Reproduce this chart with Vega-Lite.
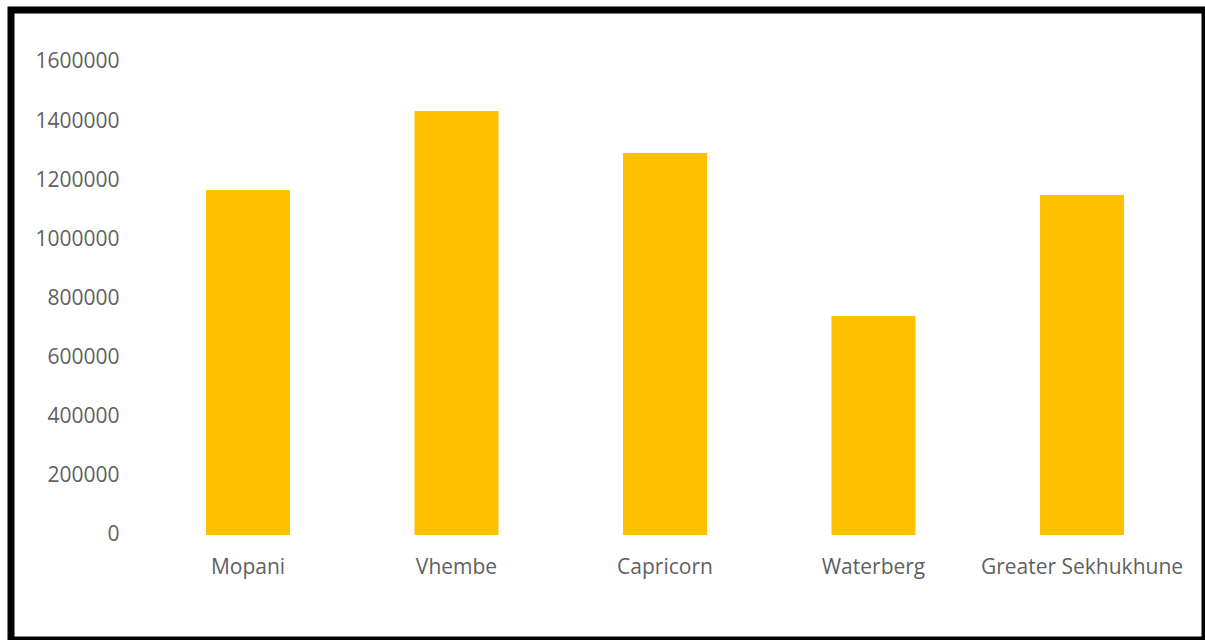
{
  "$schema": "https://vega.github.io/schema/vega-lite/v6.json",
  "autosize": "none",
  "padding": {"left": 11, "top": 10, "right": 0, "bottom": 0},
  "width": 1194,
  "height": 630,
  "background": "white",
  "data": {
    "values": [
      {"district": "Mopani", "value": 1167000},
      {"district": "Vhembe", "value": 1434000},
      {"district": "Capricorn", "value": 1292000},
      {"district": "Waterberg", "value": 741000},
      {"district": "Greater Sekhukhune", "value": 1150000}
    ]
  },
  "mark": {"type": "bar", "color": "#FFC000"},
  "encoding": {
    "x": {
      "field": "district",
      "type": "nominal",
      "sort": null,
      "scale": {"paddingInner": 0.5971, "paddingOuter": 0.6619, "align": 0.7065},
      "axis": {
        "title": null,
        "labelAngle": 0,
        "labelLimit": 400,
        "domain": false,
        "ticks": false,
        "tickSize": 0,
        "offset": -105,
        "labelPadding": 21,
        "labelFont": "Open Sans",
        "labelFontSize": 21,
        "labelColor": "#5f5f5f"
      }
    },
    "y": {
      "field": "value",
      "type": "quantitative",
      "scale": {"domain": [-355180, 1775898], "nice": false, "zero": false},
      "axis": {
        "title": null,
        "values": [0, 200000, 400000, 600000, 800000, 1000000, 1200000, 1400000, 1600000],
        "format": "d",
        "grid": false,
        "domain": false,
        "ticks": false,
        "tickSize": 0,
        "offset": -108,
        "labelPadding": 0,
        "labelFont": "Open Sans",
        "labelFontSize": 21,
        "labelColor": "#5f5f5f"
      }
    },
    "y2": {"datum": 0}
  },
  "config": {
    "view": {"stroke": "black", "strokeWidth": 7, "fill": "white"}
  }
}
